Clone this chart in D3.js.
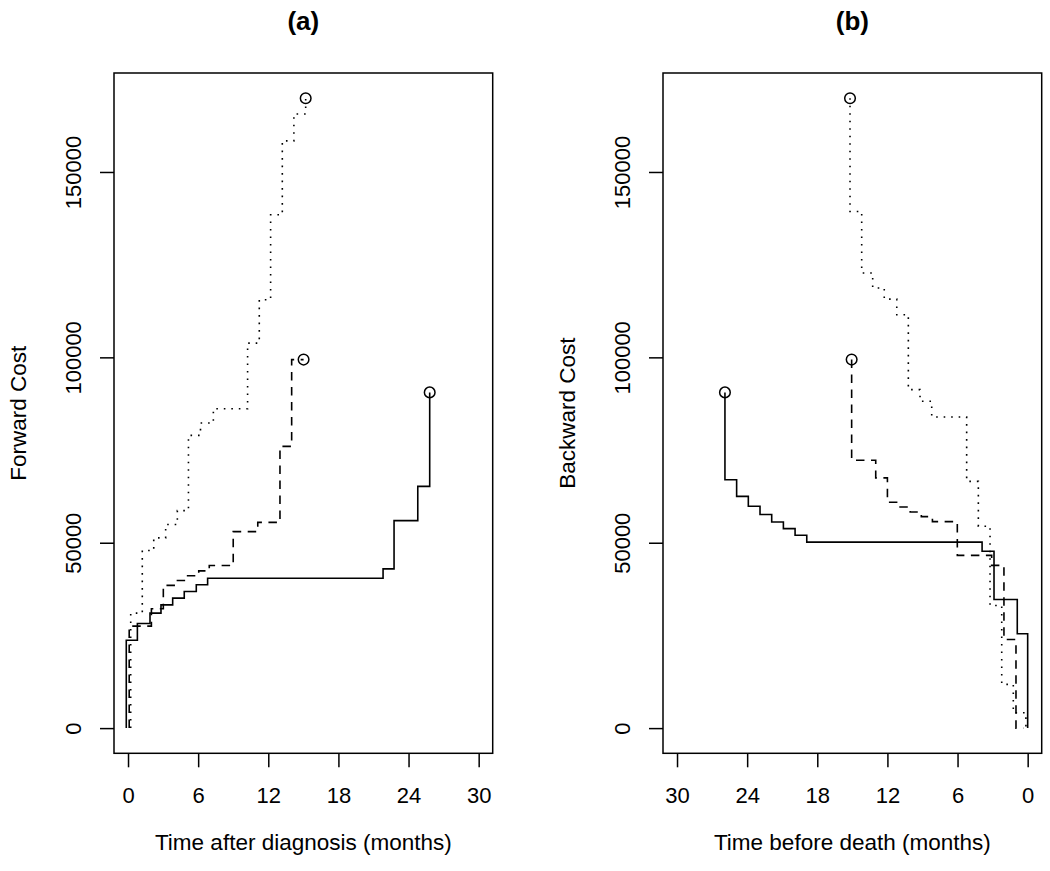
<!DOCTYPE html>
<html>
<head>
<meta charset="utf-8">
<script src="https://cdn.jsdelivr.net/npm/d3@7"></script>
<style>
  body { margin: 0; background: #fff; }
  svg { display: block; font-family: "Liberation Sans", Arial, Helvetica, sans-serif; }
</style>
</head>
<body>
<svg width="1050" height="871"></svg>
<script>
// ticks
const xTicks = [0, 6, 12, 18, 24, 30];
const yTicks = [0, 50000, 100000, 150000];

// (a) forward cost, [months after diagnosis, cost]; last point gets a circle
const fwdSolid = [[-0.15, 0], [-0.15, 23700], [0.8, 28200], [1.88, 31000], [2.82, 33250], [3.82, 35050],
  [4.81, 36850], [5.84, 38650], [6.81, 40400], [21.82, 42950], [22.76, 55950], [24.79, 65200], [25.81, 90550]];
const fwdDashed = [[0.1, 0], [0.1, 27500], [2.0, 32200], [3.02, 38500], [4.1, 39800], [5.0, 41100],
  [6.05, 42400], [6.95, 43850], [9.0, 53000], [11.1, 55500], [13.0, 76000], [14.0, 99400], [15.02, 99400]];
const fwdDotted = [[0.23, 0], [0.23, 31000], [1.22, 47900], [2.2, 51300], [3.22, 54900], [4.22, 58650],
  [5.17, 78950], [6.2, 82300], [7.3, 86150], [10.23, 103850], [11.23, 115550], [12.2, 138450],
  [13.2, 158400], [14.19, 165650], [15.2, 169900]];

// (b) backward cost, [months before death, cost]; first point gets a circle
const bwdSolid = [[25.9, 90550], [25.9, 67000], [24.9, 62500], [23.9, 59850], [22.9, 57600], [21.9, 55600],
  [20.9, 53800], [19.9, 52000], [18.9, 50150], [3.9, 47700], [2.88, 34700], [0.89, 25450], [0, 0]];
const bwdDashed = [[15.06, 99400], [15.06, 72250], [13.0, 67500], [12.0, 60900], [11.0, 59650], [10.05, 58300],
  [9.1, 57050], [8.15, 55700], [6.02, 46600], [3.08, 43900], [2.03, 23900], [1.0, 0], [0.37, 0]];
const bwdDotted = [[15.2, 169900], [15.2, 139350], [14.2, 122750], [13.26, 118700], [12.27, 115700],
  [11.2, 111500], [10.21, 91300], [9.21, 88150], [8.21, 83900], [5.22, 66550], [4.22, 54450],
  [3.22, 33050], [2.22, 11800], [1.23, 4150], [0.15, 0]];

const svg = d3.select("svg");
svg.append("rect").attr("width", 1050).attr("height", 871).attr("fill", "#fff");

const dashes = { solid: null, dashed: "8.5,6.5", dotted: "1.6,5.9" };

// R style 4% padding on both axes
const yMax = d3.max([fwdSolid, fwdDashed, fwdDotted].flat(), d => d[1]);
const yPad = yMax * 0.04;

function panel(opts) {
  const left = opts.left, right = left + 378.7, top = 73, bottom = 753.3;

  const x = d3.scaleLinear().domain(opts.reversed ? [31.2, -1.2] : [-1.2, 31.2]).range([left, right]);
  const y = d3.scaleLinear().domain([-yPad, yMax + yPad]).range([bottom, top]);

  const g = svg.append("g");

  const line = d3.line()
    .x(d => x(d[0]))
    .y(d => y(d[1]))
    .curve(d3.curveStepAfter);

  opts.series.forEach(s => {
    g.append("path")
      .attr("d", line(s.data))
      .attr("fill", "none")
      .attr("stroke", "#000")
      .attr("stroke-width", 1.6)
      .attr("stroke-dasharray", dashes[s.type]);

    const end = opts.reversed ? s.data[0] : s.data[s.data.length - 1];
    g.append("circle")
      .attr("cx", x(end[0]))
      .attr("cy", y(end[1]))
      .attr("r", 5.3)
      .attr("fill", "none")
      .attr("stroke", "#000")
      .attr("stroke-width", 1.5);
  });

  // box
  g.append("rect")
    .attr("x", left).attr("y", top)
    .attr("width", right - left).attr("height", bottom - top)
    .attr("fill", "none").attr("stroke", "#000").attr("stroke-width", 1.5);

  // x axis
  const xAxis = g.append("g")
    .attr("transform", `translate(0,${bottom})`)
    .call(d3.axisBottom(x).tickValues(xTicks).tickSize(14).tickPadding(20).tickFormat(d3.format("d")));
  xAxis.select(".domain").remove();
  xAxis.selectAll("line").attr("stroke-width", 1.5);
  xAxis.selectAll("text").attr("font-size", 22).attr("font-family", null).attr("fill", "#000");

  // y axis, labels parallel to the axis
  const yAxis = g.append("g")
    .attr("transform", `translate(${left},0)`)
    .call(d3.axisLeft(y).tickValues(yTicks).tickSize(14).tickFormat(d3.format("d")));
  yAxis.select(".domain").remove();
  yAxis.selectAll("line").attr("stroke-width", 1.5);
  yAxis.selectAll("text")
    .attr("font-size", 22).attr("font-family", null).attr("fill", "#000")
    .attr("x", null).attr("dy", null)
    .attr("text-anchor", "middle")
    .attr("transform", "translate(-33,0) rotate(-90)");

  // labels
  svg.append("text")
    .attr("x", (left + right) / 2).attr("y", 30)
    .attr("text-anchor", "middle")
    .attr("font-size", 26).attr("font-weight", "bold")
    .text(opts.title);

  svg.append("text")
    .attr("x", (left + right) / 2).attr("y", 850)
    .attr("text-anchor", "middle")
    .attr("font-size", 22.5)
    .text(opts.xLabel);

  svg.append("text")
    .attr("transform", `translate(${left - 88},${(top + bottom) / 2}) rotate(-90)`)
    .attr("text-anchor", "middle")
    .attr("font-size", 22.5)
    .text(opts.yLabel);
}

panel({
  left: 114, reversed: false, title: "(a)",
  xLabel: "Time after diagnosis (months)", yLabel: "Forward Cost",
  series: [
    { type: "solid", data: fwdSolid },
    { type: "dashed", data: fwdDashed },
    { type: "dotted", data: fwdDotted }
  ]
});

panel({
  left: 663, reversed: true, title: "(b)",
  xLabel: "Time before death (months)", yLabel: "Backward Cost",
  series: [
    { type: "solid", data: bwdSolid },
    { type: "dashed", data: bwdDashed },
    { type: "dotted", data: bwdDotted }
  ]
});
</script>
</body>
</html>
